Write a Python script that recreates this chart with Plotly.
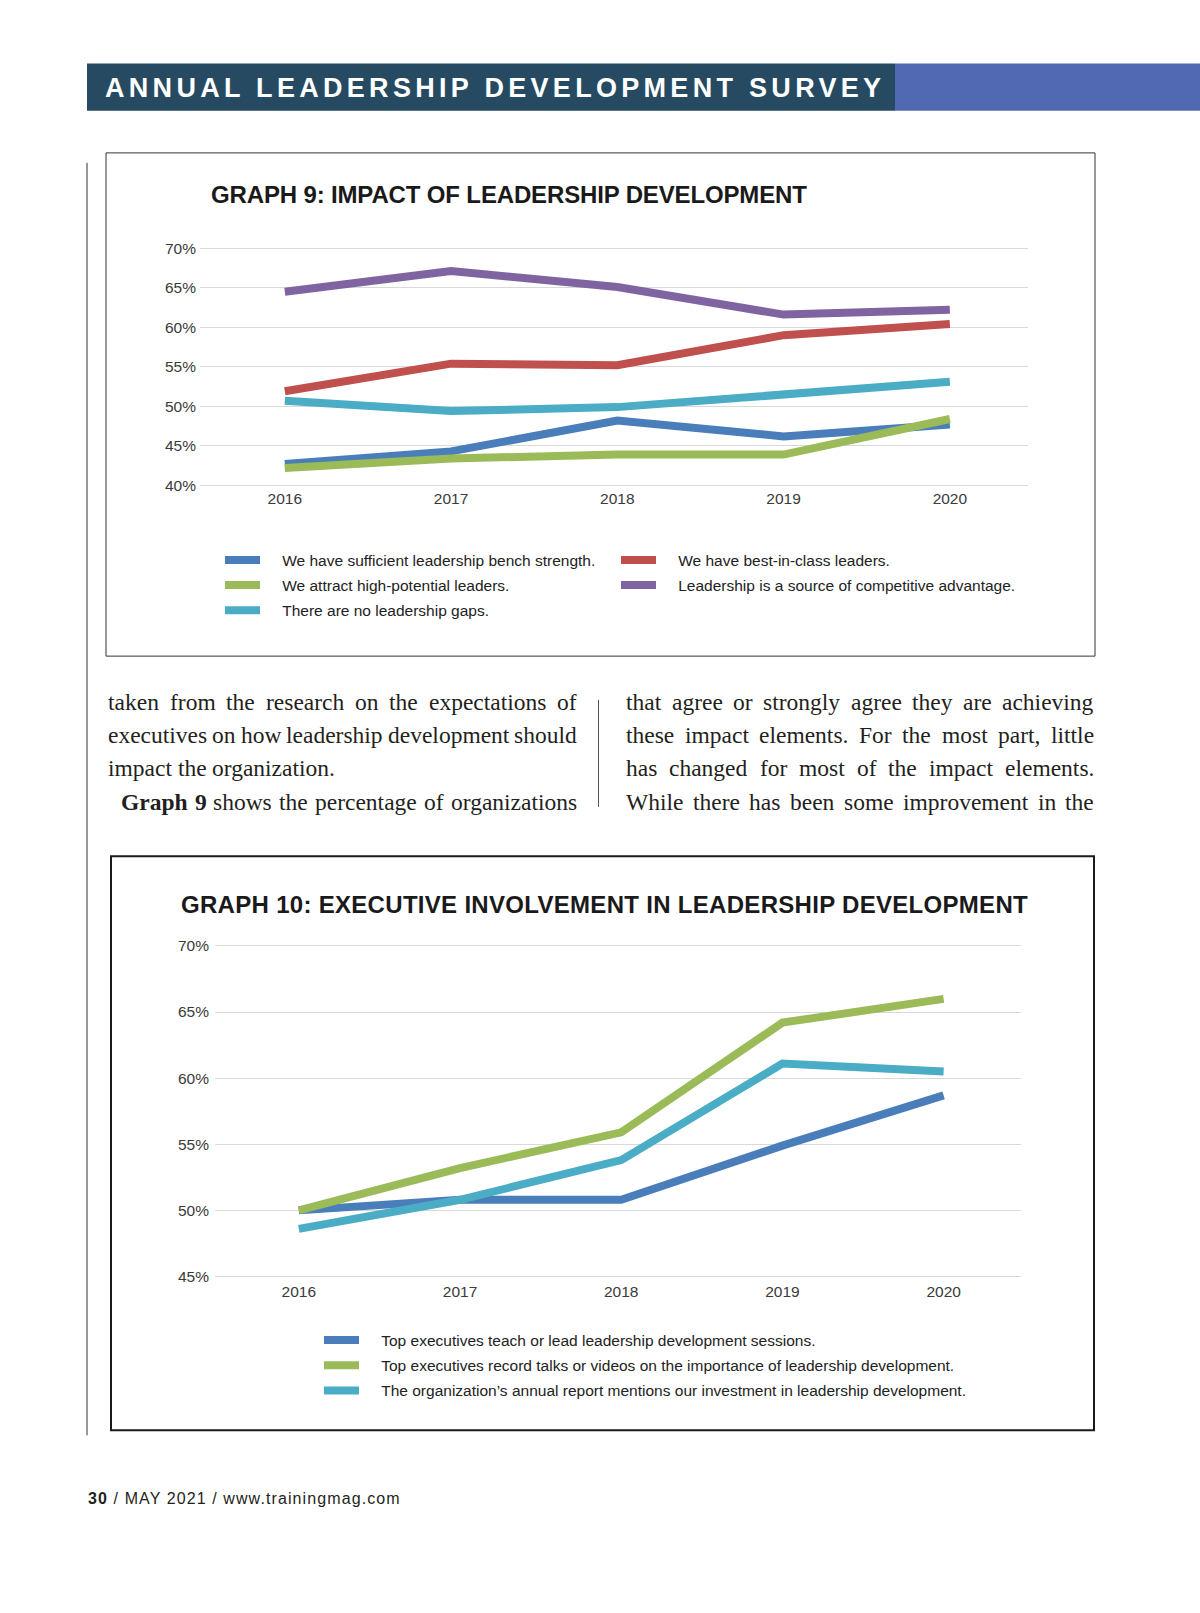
import plotly.graph_objects as go

W, H = 1200, 1613

# ---------------- data ----------------
years = ["2016", "2017", "2018", "2019", "2020"]
y9_ticks = [40, 45, 50, 55, 60, 65, 70]
y10_ticks = [45, 50, 55, 60, 65, 70]

g9_names = [
    "We have sufficient leadership bench strength.",
    "We have best-in-class leaders.",
    "We attract high-potential leaders.",
    "Leadership is a source of competitive advantage.",
    "There are no leadership gaps.",
]
g9_bench = [42.7, 44.3, 48.2, 46.2, 47.7]
g9_best = [51.9, 55.4, 55.2, 59.0, 60.4]
g9_attract = [42.2, 43.4, 43.9, 43.9, 48.4]
g9_competitive = [64.5, 67.1, 65.1, 61.6, 62.2]
g9_gaps = [50.7, 49.4, 49.9, 51.4, 53.1]

g10_names = [
    "Top executives teach or lead leadership development sessions.",
    "Top executives record talks or videos on the importance of leadership development.",
    "The organization\u2019s annual report mentions our investment in leadership development.",
]
g10_teach = [50.0, 50.8, 50.8, 54.9, 58.7]
g10_record = [50.0, 53.2, 55.9, 64.2, 66.0]
g10_report = [48.6, 50.8, 53.8, 61.1, 60.5]

header_text = "ANNUAL LEADERSHIP DEVELOPMENT SURVEY"
title9 = "GRAPH 9: IMPACT OF LEADERSHIP DEVELOPMENT"
title10 = "GRAPH 10: EXECUTIVE INVOLVEMENT IN LEADERSHIP DEVELOPMENT"

left_col = [
    ("taken from the research on the expectations of", True, False),
    ("executives on how leadership development should", True, False),
    ("impact the organization.", False, False),
    ("**Graph **9 shows the percentage of organizations", True, True),
]
right_col = [
    ("that agree or strongly agree they are achieving", True, False),
    ("these impact elements. For the most part, little", True, False),
    ("has changed for most of the impact elements.", True, False),
    ("While there has been some improvement in the", True, False),
]

# ---------------- helpers ----------------
def px(x):
    return x / W


def py(y):
    return 1 - y / H


def ydomain(p_lo, p_hi, v_lo, v_hi, r_lo, r_hi):
    ppu = (p_lo - p_hi) / (v_hi - v_lo)
    bottom = p_lo + (v_lo - r_lo) * ppu
    top = p_hi - (r_hi - v_hi) * ppu
    return [py(bottom), py(top)]


C_BLUE = "#4a7ebb"
C_RED = "#c0504d"
C_GREEN = "#9bbb59"
C_PURPLE = "#8064a2"
C_TEAL = "#4bacc6"

PAD = "\u00a0\u00a0\u00a0\u00a0"  # gap between legend swatch and label

fig = go.Figure()
x_idx = list(range(len(years)))

g9_series = [
    (g9_names[0], g9_bench, C_BLUE, "legend", "a"),
    (g9_names[1], g9_best, C_RED, "legend2", "b"),
    (g9_names[2], g9_attract, C_GREEN, "legend", "c"),
    (g9_names[3], g9_competitive, C_PURPLE, "legend2", "d"),
    (g9_names[4], g9_gaps, C_TEAL, "legend", "e"),
]
for name, vals, col, leg, grp in g9_series:
    fig.add_trace(go.Scatter(
        x=x_idx, y=vals, name=PAD + name, mode="lines",
        line=dict(color=col, width=8),
        xaxis="x", yaxis="y", legend=leg, legendgroup=grp,
        hovertemplate="%{y:.1f}%<extra></extra>",
    ))

g10_series = [
    (g10_names[0], g10_teach, C_BLUE, "f"),
    (g10_names[1], g10_record, C_GREEN, "g"),
    (g10_names[2], g10_report, C_TEAL, "h"),
]
for name, vals, col, grp in g10_series:
    fig.add_trace(go.Scatter(
        x=x_idx, y=vals, name=PAD + name, mode="lines",
        line=dict(color=col, width=8),
        xaxis="x2", yaxis="y2", legend="legend3", legendgroup=grp,
        hovertemplate="%{y:.1f}%<extra></extra>",
    ))

tick_font = dict(family="Liberation Sans, Arial, sans-serif", size=15.5, color="#3a3a3a")
grid_col = "#d9d9d9"

common_x = dict(
    tickmode="array", tickvals=x_idx, ticktext=years,
    showgrid=False, zeroline=False, showline=False, ticks="",
    tickfont=tick_font, fixedrange=True,
)
common_y = dict(
    tickmode="array", showgrid=True, gridcolor=grid_col, gridwidth=1,
    zeroline=False, showline=False, ticks="", tickfont=tick_font, fixedrange=True,
)

LEG_FS = 15.5
item_h = LEG_FS * 1.3 + 3
legend_font = dict(family="Liberation Sans, Arial, sans-serif", size=LEG_FS, color="#222222")
leg_common = dict(
    orientation="v", xanchor="left", yanchor="top", bgcolor="rgba(0,0,0,0)",
    font=legend_font, itemwidth=35, tracegroupgap=2, itemclick=False, itemdoubleclick=False,
)
leg_off = 5 + item_h / 2

fig.update_layout(
    width=W, height=H, autosize=False,
    margin=dict(l=0, r=0, t=0, b=0),
    paper_bgcolor="white", plot_bgcolor="white",
    xaxis=dict(domain=[px(200), px(1028)], anchor="y", range=[-0.51, 4.47], **common_x),
    yaxis=dict(domain=ydomain(483, 244, 40, 70, 39.7, 70.3), range=[39.7, 70.3],
               tickvals=y9_ticks, ticktext=[f"{v}%" for v in y9_ticks], anchor="x",
               ticklabelstandoff=3, **common_y),
    xaxis2=dict(domain=[px(215), px(1021)], anchor="y2", range=[-0.52, 4.48], **common_x),
    yaxis2=dict(domain=ydomain(1280, 947, 45, 70, 44.7, 70.3), range=[44.7, 70.3],
                tickvals=y10_ticks, ticktext=[f"{v}%" for v in y10_ticks], anchor="x2",
                ticklabelstandoff=5, **common_y),
    legend=dict(x=px(220), y=py(558 - leg_off), **leg_common),
    legend2=dict(x=px(616), y=py(558 - leg_off), **leg_common),
    legend3=dict(x=px(319), y=py(1344 - leg_off), **leg_common),
    showlegend=True,
)

# ---------------- page furniture ----------------
shapes = []
shapes.append(dict(type="rect", xref="paper", yref="paper", x0=px(87), x1=px(895),
                   y0=py(105.5), y1=py(58), fillcolor="#264a62", line=dict(width=0), layer="below"))
shapes.append(dict(type="rect", xref="paper", yref="paper", x0=px(895), x1=px(1200),
                   y0=py(105.5), y1=py(58), fillcolor="#5169b1", line=dict(width=0), layer="below"))
shapes.append(dict(type="line", xref="paper", yref="paper", x0=px(87), x1=px(87),
                   y0=py(158), y1=py(1440), line=dict(color="#333333", width=1)))
shapes.append(dict(type="line", xref="paper", yref="paper", x0=px(598.5), x1=px(598.5),
                   y0=py(699), y1=py(807), line=dict(color="#555555", width=1)))
shapes.append(dict(type="rect", xref="paper", yref="paper", x0=px(106), x1=px(1095),
                   y0=py(655), y1=py(148), line=dict(color="#333333", width=1), layer="below"))
shapes.append(dict(type="rect", xref="paper", yref="paper", x0=px(111), x1=px(1094),
                   y0=py(1435), y1=py(856.5), line=dict(color="#1a1a1a", width=2), layer="below"))

annotations = []


def ann(x, y, text, font, xanchor="left"):
    annotations.append(dict(
        xref="paper", yref="paper", x=px(x), y=py(y), xanchor=xanchor, yanchor="middle",
        showarrow=False, text=text, font=font, borderpad=0, borderwidth=0,
    ))


ann(105, 82.4, '<span style="letter-spacing:4.3px">' + header_text + "</span>",
    dict(family="Liberation Sans, Arial, sans-serif", size=27, color="white", weight=700))
title_font = dict(family="Liberation Sans, Arial, sans-serif", size=24, color="#1a1a1a", weight=700)
ann(211, 189.9, '<span style="letter-spacing:-0.15px">' + title9 + "</span>", title_font)
ann(181, 905, '<span style="letter-spacing:0.3px">' + title10 + "</span>", title_font)
ann(88, 1504, '<span style="letter-spacing:1.1px"><b>30</b> / MAY 2021 / www.trainingmag.com</span>',
    dict(family="Liberation Sans, Arial, sans-serif", size=16, color="#231f20"))

# Times (Liberation Serif) metrics for justification
TR = dict(zip("abcdefghijklmnopqrstuvwxyz",
              [444, 500, 444, 500, 444, 333, 500, 500, 278, 278, 500, 278, 778,
               500, 500, 500, 500, 333, 389, 278, 500, 500, 722, 500, 500, 444]))
TR.update(dict(zip("ABCDEFGHIJKLMNOPQRSTUVWXYZ",
                   [722, 667, 667, 722, 611, 556, 722, 722, 333, 389, 722, 611, 889,
                    722, 722, 556, 722, 667, 556, 611, 722, 722, 944, 722, 722, 611])))
TR.update({".": 250, ",": 250, "-": 333, " ": 250})
for d in "0123456789":
    TR[d] = 500
TB = dict(TR)
TB.update({"G": 778, "r": 444, "a": 500, "p": 556, "h": 556})

SERIF = 23.5
serif_font = dict(family="Liberation Serif, Times New Roman, serif", size=SERIF, color="#231f20")


def word_width(w, bold):
    tab = TB if bold else TR
    return sum(tab.get(c, 500) for c in w) * SERIF / 1000.0


def add_text_line(line, left, right, ycen, justify, indent):
    words = []
    bold = False
    for tok in line.split(" "):
        b = bold
        t = tok
        if t.startswith("**"):
            b = True
            t = t[2:]
        if "**" in t:
            t = t.replace("**", "")
            words.append((t, True))
            bold = False
            continue
        words.append((t, b))
    x0 = left + (13 if indent else 0)
    widths = [word_width(t, b) for t, b in words]
    if justify and len(words) > 1:
        gap = (right - x0 - sum(widths)) / (len(words) - 1)
    else:
        gap = 0.25 * SERIF
    x = x0
    for i, ((t, b), w) in enumerate(zip(words, widths)):
        last = justify and i == len(words) - 1
        ann(right if last else x, ycen, "<b>" + t + "</b>" if b else t, serif_font,
            xanchor="right" if last else "left")
        x += w + gap


line_ys = [701, 734.3, 767.5, 801.5]
for (txt, just, ind), yy in zip(left_col, line_ys):
    add_text_line(txt, 108, 577, yy, just, ind)
for (txt, just, ind), yy in zip(right_col, line_ys):
    add_text_line(txt, 626, 1094, yy, just, ind)

fig.update_layout(shapes=shapes, annotations=annotations)

fig.write_html("out.html", config={"displayModeBar": False},
               post_script="document.body.style.margin='0';")
